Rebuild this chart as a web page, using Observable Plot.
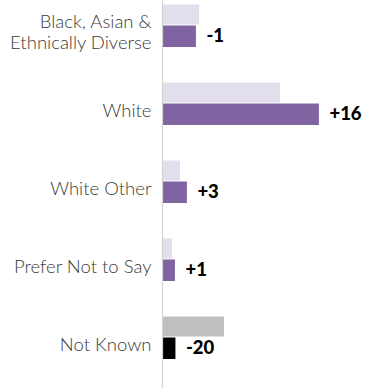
<!DOCTYPE html>
<html>
<head>
<meta charset="utf-8">
<script src="https://cdn.jsdelivr.net/npm/d3@7"></script>
<script src="https://cdn.jsdelivr.net/npm/@observablehq/plot@0.6"></script>
<style>
  html, body { margin: 0; padding: 0; background: #fff; }
  #chart svg { display: block; }
</style>
</head>
<body>
<div id="chart"></div>
<script>
const categories = ["Black, Asian &\nEthnically Diverse", "White", "White Other", "Prefer Not to Say", "Not Known"];
const previousValues = [15.2, 48.4, 7.4, 4.1, 25.4];
const currentValues = [13.9, 64.3, 10.2, 5.3, 5.5];
const changeLabels = ["-1", "+16", "+3", "+1", "-20"];
const previousColors = ["#e3deec", "#e3deec", "#e3deec", "#e3deec", "#bfbfbf"];
const currentColors = ["#8064a2", "#8064a2", "#8064a2", "#8064a2", "#000000"];

const rows = categories.map((c, i) => ({
  category: c,
  previous: previousValues[i],
  current: currentValues[i],
  label: changeLabels[i],
  prevColor: previousColors[i],
  curColor: currentColors[i]
}));

const chart = Plot.plot({
  width: 366,
  height: 388,
  marginLeft: 162,
  marginRight: 0,
  marginTop: 0,
  marginBottom: 0,
  style: { fontFamily: "Lato, sans-serif", background: "#fff" },
  x: { domain: [0, 83.6], axis: null },
  y: { domain: categories, range: [-14, 376.5], padding: 0, axis: null },
  marks: [
    Plot.barX(rows, { x: "previous", y: "category", fill: "prevColor", insetTop: 18.5, insetBottom: 39.5 }),
    Plot.barX(rows, { x: "current", y: "category", fill: "curColor", insetTop: 39.5, insetBottom: 17 }),
    Plot.ruleX([0], { stroke: "#d4d4d4", strokeWidth: 1.2 }),
    Plot.text(rows, {
      x: "current", y: "category", text: "label",
      textAnchor: "start", dx: 10, dy: 11,
      fontSize: 18.5, fontWeight: 900, fill: "#000"
    }),
    Plot.text(rows, {
      x: 0, y: "category", text: "category",
      textAnchor: "end", dx: -11, dy: 6,
      fontSize: 18.5, fontWeight: 300, fill: "#3a3a3a", lineHeight: 1.18
    })
  ]
});
document.getElementById("chart").append(chart);
</script>
</body>
</html>
